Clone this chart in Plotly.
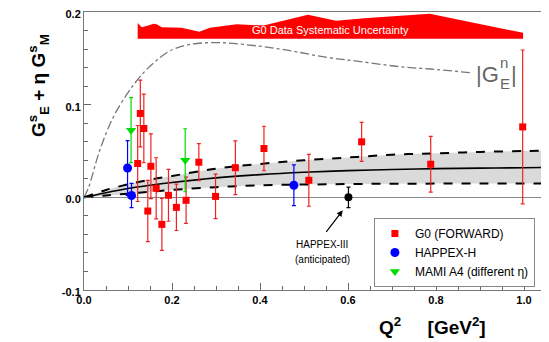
import plotly.graph_objects as go

# ---------------- data ----------------
g0_q2 = [0.122, 0.128, 0.136, 0.145, 0.152, 0.164, 0.177, 0.192, 0.210, 0.232, 0.261, 0.299, 0.344, 0.409, 0.511, 0.631, 0.788, 0.997]
g0_val = [0.0365, 0.0905, 0.0743, -0.0148, 0.0335, 0.0097, -0.0292, 0.0022, -0.0108, -0.0032, 0.0379, 0.0010, 0.0320, 0.0527, 0.0184, 0.0599, 0.0357, 0.0760]
g0_err = [0.041, 0.036, 0.037, 0.033, 0.035, 0.033, 0.028, 0.028, 0.025, 0.025, 0.020, 0.024, 0.029, 0.024, 0.028, 0.021, 0.030, 0.083]

hap_q2 = [0.099, 0.108, 0.477]
hap_val = [0.0317, 0.0020, 0.0130]
hap_err = [0.0295, 0.013, 0.022]

mami_q2 = [0.107, 0.230]
mami_val = [0.0725, 0.0400]
mami_err = [0.035, 0.034]

h3_q2 = [0.601]
h3_val = [0.0]
h3_err = [0.011]

model_q2 = [0, 0.05, 0.1, 0.15, 0.2, 0.3, 0.4, 0.5, 0.6, 0.7, 0.8, 0.9, 1.0, 1.05]
model_mid = [0, 0.005, 0.0095, 0.013, 0.016, 0.021, 0.0245, 0.027, 0.0288, 0.030, 0.031, 0.0315, 0.032, 0.0322]
model_hi = [0, 0.008, 0.014, 0.019, 0.023, 0.031, 0.036, 0.040, 0.043, 0.046, 0.0475, 0.049, 0.050, 0.0505]
model_lo = [0, 0.002, 0.004, 0.006, 0.008, 0.011, 0.013, 0.0138, 0.0143, 0.0147, 0.0148, 0.015, 0.015, 0.015]

gen_q2 = [0, 0.01, 0.036, 0.067, 0.1, 0.127, 0.158, 0.195, 0.241, 0.302, 0.362, 0.423, 0.483, 0.552, 0.62, 0.718, 0.8, 0.877]
gen_val = [0, 0.010, 0.051, 0.087, 0.113, 0.130, 0.145, 0.158, 0.165, 0.167, 0.165, 0.1616, 0.157, 0.151, 0.147, 0.141, 0.138, 0.1345]

sys_q2 = [0.122, 0.131, 0.146, 0.158, 0.165, 0.177, 0.222, 0.237, 0.262, 0.286, 0.347, 0.408, 0.509, 0.573, 0.644, 0.786, 0.998]
sys_top = [0.188, 0.1835, 0.1854, 0.1872, 0.1869, 0.1836, 0.1829, 0.1815, 0.1786, 0.1829, 0.1869, 0.1854, 0.197, 0.1905, 0.1935, 0.198, 0.1775]
sys_base = 0.171

x_ticks = [0.0, 0.2, 0.4, 0.6, 0.8, 1.0]
y_ticks = [-0.1, 0.0, 0.1, 0.2]

FONT = "Liberation Sans, Arial, sans-serif"

fig = go.Figure()

# systematic band
fig.add_trace(go.Scatter(
    x=sys_q2 + sys_q2[::-1], y=sys_top + [sys_base] * len(sys_q2),
    fill="toself", fillcolor="#ff0000", line=dict(width=0, color="#ff0000"),
    mode="lines", showlegend=False, hoverinfo="skip"))

# |G_E^n| curve
fig.add_trace(go.Scatter(x=gen_q2, y=gen_val, mode="lines",
                         line=dict(color="#777777", width=1.3, dash="dashdot", shape="spline"),
                         showlegend=False))

# model band
fig.add_trace(go.Scatter(x=model_q2, y=model_lo, mode="lines",
                         line=dict(color="black", width=2, dash="dash", shape="spline"),
                         showlegend=False))
fig.add_trace(go.Scatter(x=model_q2, y=model_hi, mode="lines", fill="tonexty",
                         fillcolor="#dadada",
                         line=dict(color="black", width=2, dash="dash", shape="spline"),
                         showlegend=False))
fig.add_trace(go.Scatter(x=model_q2, y=model_mid, mode="lines",
                         line=dict(color="black", width=1.6, shape="spline"),
                         showlegend=False))

# data
fig.add_trace(go.Scatter(x=g0_q2, y=g0_val, mode="markers", name="G0 (FORWARD)",
                         marker=dict(symbol="square", size=7, color="#ff0000"),
                         error_y=dict(type="data", array=g0_err, color="#ee2222", thickness=1.2, width=2)))
fig.add_trace(go.Scatter(x=hap_q2, y=hap_val, mode="markers", name="HAPPEX-H",
                         marker=dict(symbol="circle", size=9, color="#0000ff"),
                         error_y=dict(type="data", array=hap_err, color="#0000ff", thickness=1.2, width=2)))
fig.add_trace(go.Scatter(x=mami_q2, y=mami_val, mode="markers", name="MAMI A4 (different \u03b7)",
                         marker=dict(symbol="triangle-down", size=9, color="#00dd00"),
                         error_y=dict(type="data", array=mami_err, color="#00dd00", thickness=1.2, width=2)))
fig.add_trace(go.Scatter(x=h3_q2, y=h3_val, mode="markers", showlegend=False,
                         marker=dict(symbol="circle", size=8, color="black"),
                         error_y=dict(type="data", array=h3_err, color="black", thickness=1.2, width=2)))

annotations = [
    dict(x=0.56, y=0.181, xref="x", yref="y", text="G0 Data Systematic Uncertainty",
         showarrow=False, font=dict(family=FONT, size=11, color="white")),
    # |G_E^n| label
    dict(x=0.887, y=0.133, xref="x", yref="y", text="|G", showarrow=False,
         xanchor="left", font=dict(family=FONT, size=22, color="#666666")),
    dict(x=0.94, y=0.146, xref="x", yref="y", text="n", showarrow=False,
         xanchor="left", font=dict(family=FONT, size=15, color="#666666")),
    dict(x=0.94, y=0.123, xref="x", yref="y", text="E", showarrow=False,
         xanchor="left", font=dict(family=FONT, size=15, color="#666666")),
    dict(x=0.966, y=0.133, xref="x", yref="y", text="|", showarrow=False,
         xanchor="left", font=dict(family=FONT, size=22, color="#666666")),
    # HAPPEX-III
    dict(x=0.588, y=-0.014, ax=0.548, ay=-0.039, xref="x", yref="y", axref="x", ayref="y",
         text="", showarrow=True, arrowhead=2, arrowsize=1, arrowwidth=1.2, arrowcolor="black"),
    dict(x=0.541, y=-0.051, xref="x", yref="y", text="HAPPEX-III", showarrow=False,
         font=dict(family=FONT, size=10, color="black")),
    dict(x=0.541, y=-0.067, xref="x", yref="y", text="(anticipated)", showarrow=False,
         font=dict(family=FONT, size=10, color="black")),
    # axis titles
    dict(x=-0.0996, y=0.737, xref="paper", yref="paper", textangle=-90, showarrow=False,
         xanchor="center", yanchor="middle",
         text="<b>G<sup>s</sup><sub>E</sub> + \u03b7 G<sup>s</sup><sub>M</sub></b>",
         font=dict(family=FONT, size=19, color="black")),
    dict(x=0.755, y=-0.13, xref="paper", yref="paper", showarrow=False,
         xanchor="center", yanchor="middle",
         text="<b>Q<sup>2</sup>\u00a0\u00a0\u00a0\u00a0\u00a0[GeV<sup>2</sup>]</b>",
         font=dict(family=FONT, size=19, color="black")),
]

# The page body has an 8 px margin, so the figure is sized and padded to land
# the plot area where the reference has it.
fig.update_layout(
    width=541, height=334,
    margin=dict(l=76, r=3, t=4, b=52, autoexpand=False),
    paper_bgcolor="white", plot_bgcolor="white",
    font=dict(family=FONT, size=11, color="black"),
    annotations=annotations,
    legend=dict(x=0.976, y=0.259, xanchor="right", yanchor="top",
                bgcolor="white", bordercolor="#888888", borderwidth=1,
                font=dict(family=FONT, size=12, color="black"),
                itemwidth=30, tracegroupgap=0, traceorder="normal"),
)
fig.update_xaxes(range=[0, 1.05], tickvals=x_ticks, ticktext=[f"<b>{v:.1f}</b>" for v in x_ticks],
                 ticks="inside", ticklen=7, tickcolor="#666666", showgrid=False,
                 showline=True, linecolor="#777777", linewidth=1, mirror=True,
                 zeroline=False, ticklabeloverflow="allow", automargin=False,
                 minor=dict(ticks="inside", dtick=0.05, ticklen=4, tickcolor="#666666", showgrid=False),
                 tickfont=dict(family=FONT, size=11))
fig.update_yaxes(range=[-0.1, 0.2], tickvals=y_ticks, ticktext=[f"<b>{v:.1f}</b>" for v in y_ticks],
                 ticks="inside", ticklen=7, tickcolor="#666666", showgrid=False,
                 showline=True, linecolor="#777777", linewidth=1, mirror=True,
                 zeroline=True, zerolinecolor="#888888", zerolinewidth=1,
                 ticklabeloverflow="allow", automargin=False, ticklabelshift=2,
                 minor=dict(ticks="inside", dtick=0.02, ticklen=4, tickcolor="#666666", showgrid=False),
                 tickfont=dict(family=FONT, size=11))

fig.write_html("out.html")
